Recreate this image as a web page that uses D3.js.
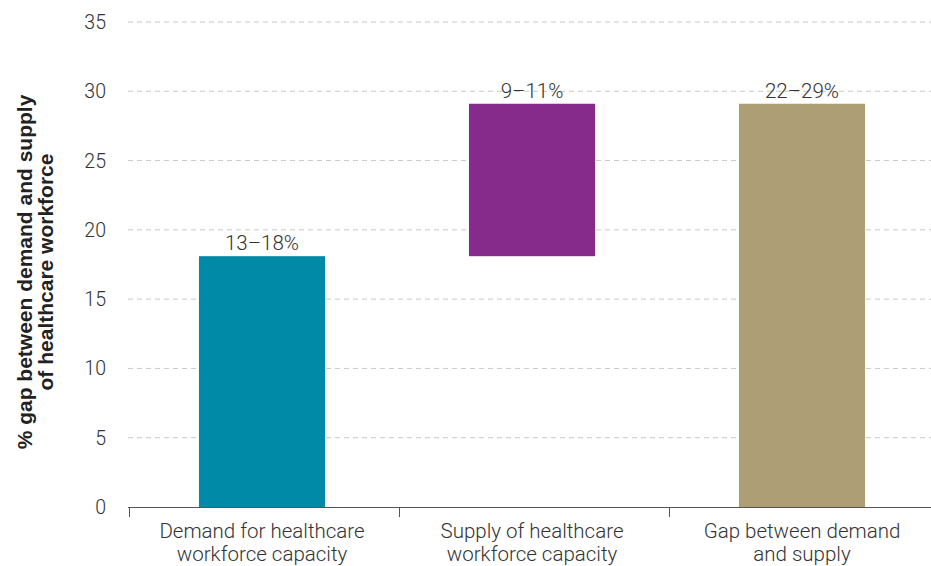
<!DOCTYPE html>
<html><head><meta charset="utf-8">
<script src="https://cdn.jsdelivr.net/npm/d3@7"></script>
<style>body{margin:0;background:#fff}svg{display:block}</style>
</head><body>
<svg id="c" width="931" height="566"></svg>
<script>
const categories = [["Demand for healthcare","workforce capacity"],["Supply of healthcare","workforce capacity"],["Gap between demand","and supply"]];
const barStart = [0, 18.1, 0];
const barEnd = [18.1, 29.1, 29.1];
const barLabels = ["13–18%", "9–11%", "22–29%"];
const colors = ["#008aa7", "#862b8b", "#ad9e76"];
const yTicks = [0,5,10,15,20,25,30,35];
const yTitle = ["% gap between demand and supply","of healthcare workforce"];

const svg = d3.select("#c");
const font = "Roboto, 'Liberation Sans', Arial, sans-serif";
const y = d3.scaleLinear().domain([0,35]).range([507,22]);
const x = d3.scaleBand().domain(d3.range(categories.length)).range([127,937]).padding(0);
const barW = x.bandwidth()*0.467;

// gridlines
svg.append("g").selectAll("line").data(yTicks.filter(d=>d>0)).join("line")
  .attr("x1",128).attr("x2",931).attr("y1",d=>y(d)).attr("y2",d=>y(d))
  .attr("stroke","#c8c8c8").attr("stroke-width",1).attr("stroke-dasharray","5,4");

// y tick labels
svg.append("g").selectAll("text").data(yTicks).join("text")
  .attr("x",106).attr("y",d=>y(d)).attr("dy","0.36em").attr("text-anchor","end")
  .attr("font-family",font).attr("font-weight",300).attr("font-size",19.5).attr("fill","#333")
  .text(d=>d);

// bars
svg.append("g").selectAll("rect").data(categories).join("rect")
  .attr("x",(d,i)=>x(i)+x.bandwidth()/2-barW/2).attr("width",barW)
  .attr("y",(d,i)=>y(barEnd[i])).attr("height",(d,i)=>y(barStart[i])-y(barEnd[i]))
  .attr("fill",(d,i)=>colors[i]);

// bar labels
svg.append("g").selectAll("text").data(barLabels).join("text")
  .attr("x",(d,i)=>x(i)+x.bandwidth()/2).attr("y",(d,i)=>y(barEnd[i])-6)
  .attr("text-anchor","middle").attr("font-family",font).attr("font-weight",300)
  .attr("font-size",20.5).attr("fill","#333").text(d=>d);

// x axis
svg.append("line").attr("x1",128).attr("x2",931).attr("y1",507.5).attr("y2",507.5)
  .attr("stroke","#555").attr("stroke-width",1);
svg.append("g").selectAll("line").data(d3.range(categories.length)).join("line")
  .attr("x1",d=>Math.round(x(d))+2.5).attr("x2",d=>Math.round(x(d))+2.5)
  .attr("y1",507).attr("y2",517).attr("stroke","#555");

const cat = svg.append("g").selectAll("text").data(categories).join("text")
  .attr("x",(d,i)=>x(i)+x.bandwidth()/2).attr("y",538)
  .attr("text-anchor","middle").attr("font-family",font).attr("font-weight",300)
  .attr("font-size",20.5).attr("fill","#333");
cat.selectAll("tspan").data(d=>d).join("tspan")
  .attr("x",function(){return this.parentNode.getAttribute("x");})
  .attr("dy",(d,j)=>j?23:0).text(d=>d);

// y title
const yt = svg.append("text").attr("transform","translate(32,272) rotate(-90)")
  .attr("text-anchor","middle").attr("font-family","'Liberation Sans', Arial, sans-serif")
  .attr("font-weight","bold").attr("font-size",21).attr("fill","#222");
yt.selectAll("tspan").data(yTitle).join("tspan").attr("x",0).attr("dy",(d,j)=>j?21:0).text(d=>d);
</script>
</body></html>
